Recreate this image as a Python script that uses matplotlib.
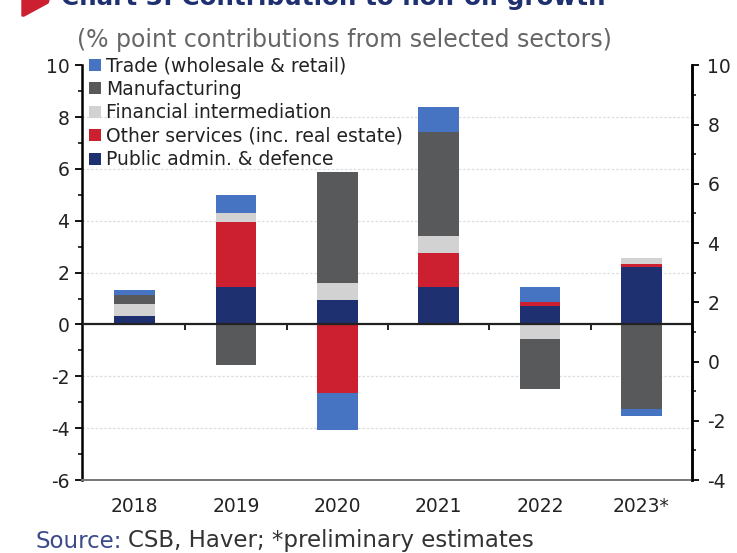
import matplotlib
matplotlib.use("Agg")
import matplotlib.pyplot as plt
import numpy as np
from matplotlib.patches import Polygon

years = ["2018", "2019", "2020", "2021", "2022", "2023*"]
public_admin = [0.32, 1.43, 0.94, 1.46, 0.72, 2.20]
other_services = [0.00, 2.51, -2.64, 1.28, 0.16, 0.13]
financial = [0.46, 0.35, 0.67, 0.67, -0.57, 0.22]
manufacturing = [0.37, -1.57, 4.26, 4.03, -1.93, -3.27]
trade = [0.17, 0.70, -1.44, 0.96, 0.55, -0.26]

series = [
    ("Public admin. & defence", public_admin, "#1f3070"),
    ("Other services (inc. real estate)", other_services, "#cc2030"),
    ("Financial intermediation", financial, "#d2d2d2"),
    ("Manufacturing", manufacturing, "#58595b"),
    ("Trade (wholesale & retail)", trade, "#4673c2"),
]

left_ticks = [-6, -4, -2, 0, 2, 4, 6, 8, 10]
right_ticks = [-4, -2, 0, 2, 4, 6, 8, 10]

plt.rcParams['font.family'] = ['DejaVu Sans']
plt.rcParams['axes.unicode_minus'] = False

fig = plt.figure(figsize=(7.37, 5.53), dpi=100)
ax = fig.add_axes([0.111, 0.132, 0.828, 0.750])

x = np.arange(len(years))
pos_base = np.zeros(len(years))
neg_base = np.zeros(len(years))
handles = []
for name, vals, col in series:
    v = np.array(vals)
    base = np.where(v >= 0, pos_base, neg_base)
    b = ax.bar(x, v, 0.4, bottom=base, color=col, label=name, zorder=3)
    handles.append(b)
    pos_base = pos_base + np.where(v >= 0, v, 0)
    neg_base = neg_base + np.where(v < 0, v, 0)

ax.set_xlim(-0.52, len(years) - 0.5)
ax.set_ylim(-6, 10)
ax.set_yticks(left_ticks)
ax.set_yticks(np.arange(-6, 11, 1), minor=True)
for t in [-4, -2, 2, 4, 6, 8]:
    ax.axhline(t, color="#dddddd", lw=0.9, ls=(0, (2, 1.5)), zorder=1)
ax.axhline(0, color="#222222", lw=1.6, zorder=4)
ax.vlines(np.arange(len(years) - 1) + 0.5, -0.22, 0, color="#222222", lw=1.4, zorder=4)

ax.set_xticks(x)
ax.set_xticklabels(years)
ax.tick_params(axis='x', length=0, pad=12, labelsize=13.5, labelcolor="#222222")
ax.tick_params(axis='y', which='major', direction='out', length=5, width=1.3,
               labelsize=13.5, labelcolor="#222222", pad=4)
ax.tick_params(axis='y', which='minor', direction='out', length=3, width=1.1)

ax.spines['top'].set_visible(False)
ax.spines['left'].set_linewidth(1.8)
ax.spines['right'].set_linewidth(1.8)
ax.spines['bottom'].set_color("#777777")
ax.spines['bottom'].set_linewidth(1.4)

ax2 = ax.twinx()
ax2.set_ylim(-4, 10)
ax2.set_yticks(right_ticks)
ax2.set_yticks(np.arange(-4, 11, 1), minor=True)
ax2.tick_params(axis='y', which='major', direction='out', length=5, width=1.3,
                labelsize=13.5, labelcolor="#222222", pad=6)
ax2.tick_params(axis='y', which='minor', direction='out', length=3, width=1.1)
for s in ['top', 'left', 'bottom']:
    ax2.spines[s].set_visible(False)
ax2.spines['right'].set_linewidth(1.8)

leg = ax.legend(handles[::-1], [s[0] for s in series][::-1], loc='upper left',
                bbox_to_anchor=(0.0, 1.04), frameon=False, fontsize=13.5,
                handlelength=0.6, handleheight=0.6, handletextpad=0.3,
                labelspacing=0.24, borderaxespad=0.0)
for t in leg.get_texts():
    t.set_color("#222222")

# Clipped title and red marker (the reference cuts them at the top edge)
fig.text(0.083, 1 - 5.5/553, "Chart 3: Contribution to non-oil growth", fontsize=17.7,
         fontweight='bold', color="#1f3070", ha='left', va='baseline')
fig.patches.append(Polygon([[22/737, 1.0], [49/737, 1.0], [48/737, 1 - 3/553],
                            [24/737, 1 - 16/553], [22/737, 1 - 16/553]],
                           closed=True, transform=fig.transFigure, color="#cc2030"))

fig.text(0.105, 1 - 40/553, "(% point contributions from selected sectors)", fontsize=17,
         color="#666666", ha='left', va='center')

t1 = fig.text(0.048, 1 - 541/553, "Source:", fontsize=16.5, color="#3a4a8a", ha='left', va='center')
fig.canvas.draw()
bb = t1.get_window_extent()
fig.text((bb.x1 + 6) / fig.bbox.width, 1 - 541/553, "CSB, Haver; *preliminary estimates", fontsize=16.5,
         color="#333333", ha='left', va='center')

fig.savefig("out.png", dpi=100)
